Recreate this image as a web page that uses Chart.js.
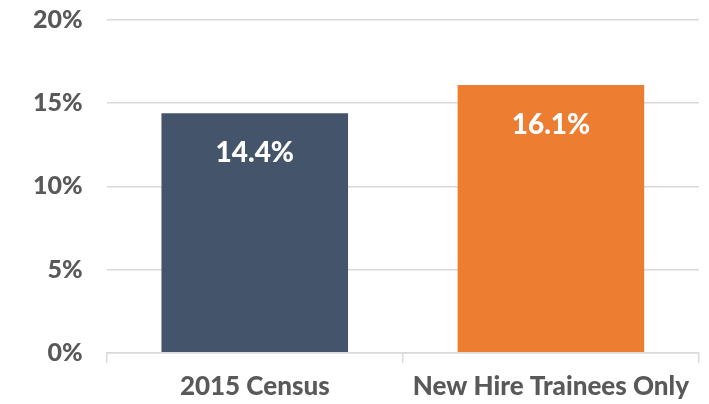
<!DOCTYPE html>
<html>
<head>
<meta charset="utf-8">
<script src="https://cdn.jsdelivr.net/npm/chart.js@4"></script>
<style>
  html, body { margin: 0; padding: 0; background: #fff; }
  #wrap { width: 709px; height: 404px; }
</style>
</head>
<body>
<div id="wrap"><canvas id="chart" width="709" height="404"></canvas></div>
<script>
const categories = ["2015 Census", "New Hire Trainees Only"];
const values = [14.4, 16.1];
const barColors = ["#44546a", "#ed7d31"];
const yTicks = [0, 5, 10, 15, 20];

const FONT = "Lato, 'Open Sans', sans-serif";

// value labels drawn inside the top of each bar
const barLabels = {
  id: "barLabels",
  afterDatasetsDraw(chart) {
    const { ctx } = chart;
    const meta = chart.getDatasetMeta(0);
    ctx.save();
    ctx.fillStyle = "#ffffff";
    ctx.font = "900 28px " + FONT;
    ctx.textAlign = "center";
    ctx.textBaseline = "middle";
    meta.data.forEach((bar, i) => {
      ctx.fillText(values[i].toFixed(1) + "%", bar.x, bar.y + 40);
    });
    ctx.restore();
  },
};

new Chart(document.getElementById("chart"), {
  type: "bar",
  data: {
    labels: categories,
    datasets: [{
      data: values,
      backgroundColor: barColors,
      categoryPercentage: 0.63,
      barPercentage: 1,
    }],
  },
  options: {
    animation: false,
    responsive: false,
    layout: { padding: { top: 20, right: 10, left: 33, bottom: -6 } },
    plugins: { legend: { display: false }, tooltip: { enabled: false } },
    scales: {
      x: {
        grid: { offset: true, drawOnChartArea: false, drawTicks: true, tickLength: 10, color: "#d9d9d9", lineWidth: 1.5 },
        border: { color: "#d9d9d9", width: 1.5 },
        ticks: { color: "#595959", font: { family: FONT, size: 26, weight: 900 }, padding: 8 },
      },
      y: {
        min: 0,
        max: 20,
        afterBuildTicks: (axis) => { axis.ticks = yTicks.map((v) => ({ value: v })); },
        // invisible tick marks give the gap between labels and plot
        grid: { color: "#d9d9d9", lineWidth: 1.5, drawTicks: true, tickLength: 24, tickColor: "rgba(0,0,0,0)" },
        border: { display: false },
        ticks: { color: "#595959", font: { family: FONT, size: 25, weight: 900 }, padding: 0, callback: (v) => v + "%" },
      },
    },
  },
  plugins: [barLabels],
});
</script>
</body>
</html>
